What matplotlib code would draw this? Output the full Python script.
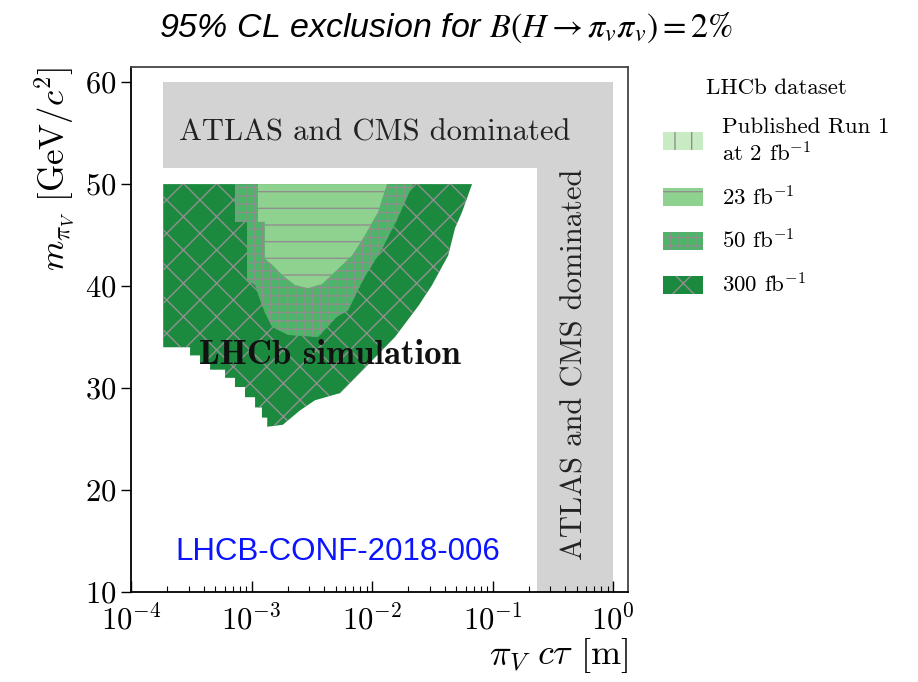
import matplotlib
matplotlib.use("Agg")
import matplotlib.pyplot as plt
from matplotlib.patches import Patch

plt.rcParams['font.family'] = 'cmr10'
plt.rcParams['mathtext.fontset'] = 'cm'
plt.rcParams['axes.formatter.use_mathtext'] = True
plt.rcParams['axes.unicode_minus'] = False
plt.rcParams['hatch.linewidth'] = 1.0

# 300 fb^-1 excluded region (ctau in m, mass in GeV)
ctau_300 = [1.85e-4, 6.76e-2, 5.58e-2, 4.89e-2, 4.28e-2, 3.15e-2, 2.44e-2, 1.55e-2,
            1.0e-2, 7.23e-3, 5.42e-3, 3.36e-3, 2.52e-3, 1.82e-3, 1.35e-3, 1.35e-3,
            1.22e-3, 1.22e-3, 1.07e-3, 1.07e-3, 8.83e-4, 8.83e-4, 7.29e-4, 7.29e-4,
            6.03e-4, 6.03e-4, 4.53e-4, 4.53e-4, 3.74e-4, 3.74e-4, 3.09e-4, 3.09e-4,
            1.85e-4]
mass_300 = [50.0, 50.0, 47.25, 45.7, 43.0, 40.1, 38.1, 35.0,
            32.7, 31.0, 29.5, 28.8, 27.8, 26.4, 26.2, 27.1,
            27.1, 28.1, 28.1, 29.1, 29.1, 30.1, 30.1, 31.0,
            31.0, 31.8, 31.8, 32.5, 32.5, 33.2, 33.2, 34.0,
            34.0]

# 50 fb^-1
ctau_50 = [7.29e-4, 2.19e-2, 1.61e-2, 1.23e-2, 8.42e-3, 6.32e-3, 5.13e-3, 3.56e-3,
           2.01e-3, 1.48e-3, 1.29e-3, 1.18e-3, 1.07e-3, 9.18e-4, 9.18e-4, 7.29e-4]
mass_50 = [50.0, 50.0, 46.5, 43.8, 40.6, 37.6, 37.0, 35.0,
           35.2, 36.0, 37.4, 38.6, 40.1, 40.6, 46.3, 46.3]

# 23 fb^-1
ctau_23 = [1.13e-3, 1.33e-2, 1.12e-2, 8.75e-3, 6.83e-3, 4.93e-3, 3.85e-3, 2.94e-3,
           2.30e-3, 1.79e-3, 1.48e-3, 1.29e-3, 1.29e-3, 1.13e-3]
mass_23 = [50.0, 50.0, 47.25, 45.0, 43.0, 41.4, 40.2, 39.8,
           40.1, 41.1, 42.1, 42.7, 46.3, 46.3]

# ATLAS/CMS dominated band (L shape)
ctau_band = [1.85e-4, 1.0, 1.0, 0.234, 0.234, 1.85e-4]
mass_band = [60.0, 60.0, 10.0, 10.0, 51.6, 51.6]

c_dark = '#1b8a3f'
c_mid = '#4db567'
c_light = '#8fd18f'
c_run1 = '#c9ebc3'
c_hatch = '#8f8f8f'

fig = plt.figure(figsize=(9.18, 6.82), dpi=100)
ax = fig.add_axes([0.1427, 0.132, 0.5414, 0.770])

ax.fill(ctau_band, mass_band, color='#d3d3d3', lw=0)
ax.fill(ctau_300, mass_300, facecolor=c_dark, edgecolor=c_hatch, lw=0, hatch='x')
ax.fill(ctau_50, mass_50, facecolor=c_mid, edgecolor=c_hatch, lw=0, hatch='++')
ax.fill(ctau_23, mass_23, facecolor=c_light, edgecolor=c_hatch, lw=0, hatch='-')

ax.set_xscale('log')
ax.set_xlim(1e-4, 1.33)
ax.set_ylim(10, 61.5)
ax.set_yticks([10, 20, 30, 40, 50, 60])
ax.set_xticks([1e-4, 1e-3, 1e-2, 1e-1, 1e0])
ax.tick_params(axis='x', which='major', direction='in', length=8, width=1, labelsize=22, pad=9)
ax.tick_params(axis='x', which='minor', direction='in', length=4, width=0.8)
ax.tick_params(axis='y', which='major', direction='out', length=7, width=1, labelsize=22)
for s in ax.spines.values():
    s.set_linewidth(1.3)
for s in ['top', 'right']:
    ax.spines[s].set_color('#444444')

ax.set_xlabel(r'$\pi_V\ c\tau$ [m]', fontsize=26, loc='right', labelpad=0)
ax.set_ylabel(r'$m_{\pi_V}$ [GeV/$c^2$]', fontsize=25, loc='top', labelpad=6)

ax.text(1.06e-2, 55.0, 'ATLAS and CMS dominated', fontsize=22, ha='center', va='center', color='#222222')
ax.text(0.484, 32.3, 'ATLAS and CMS dominated', fontsize=22, rotation=90,
        ha='center', va='center', color='#222222')
ax.text(4.48e-3, 33.2, 'LHCb simulation', family='cmb10', fontsize=25,
        ha='center', va='center', color='#111111')
ax.text(5.22e-3, 13.9, 'LHCB-CONF-2018-006', family='Liberation Sans', fontsize=22.5,
        ha='center', va='center', color='#0a14ff')

fig.text(0.486, 0.959, r'95% CL exclusion for $B(H \rightarrow \pi_v\pi_v) = 2\%$',
         family='Liberation Sans', style='italic', fontsize=24.5, ha='center', va='center',
         math_fontfamily='stix')

handles = [
    Patch(facecolor=c_run1, edgecolor=c_hatch, lw=0, hatch='|'),
    Patch(facecolor=c_light, edgecolor=c_hatch, lw=0, hatch='-'),
    Patch(facecolor=c_mid, edgecolor=c_hatch, lw=0, hatch='++'),
    Patch(facecolor=c_dark, edgecolor=c_hatch, lw=0, hatch='x'),
]
labels = ['Published Run 1\nat 2 fb$^{-1}$', '23 fb$^{-1}$', '50 fb$^{-1}$', '300 fb$^{-1}$']
leg = fig.legend(handles, labels, title='LHCb dataset', loc='upper left',
                 bbox_to_anchor=(0.70, 0.915), frameon=False, fontsize=16.5,
                 title_fontsize=16.5, handlelength=1.75, handleheight=0.85,
                 labelspacing=0.85, handletextpad=0.8)

fig.savefig('out.png', dpi=100)
